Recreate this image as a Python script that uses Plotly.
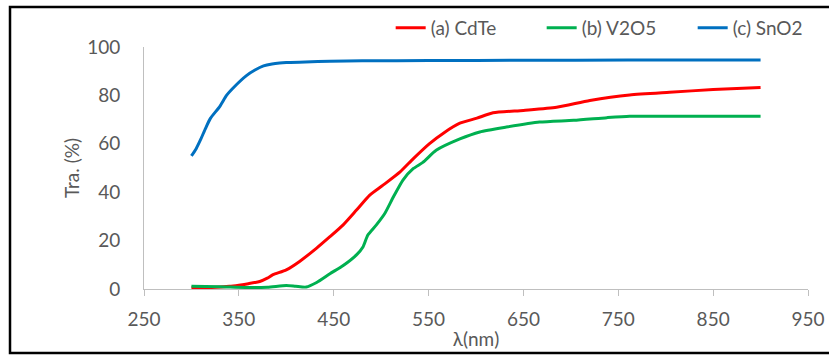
import plotly.graph_objects as go

# --- data ---
sno2_x = [300, 305, 310, 315, 320, 330, 337, 345, 358, 367, 376, 385, 393, 400, 420, 446, 480, 550, 650, 760, 850, 900]
sno2_y = [55, 58, 62, 66.5, 70.5, 75.5, 80, 83.5, 88.2, 90.5, 92.2, 93, 93.4, 93.6, 93.8, 94.1, 94.3, 94.4, 94.5, 94.6, 94.6, 94.6]

cdte_x = [300, 320, 340, 350, 360, 372, 380, 386, 400, 414, 432, 446, 460, 474, 488, 502, 520, 534, 551, 566, 583, 601, 618, 650, 685, 720, 762, 804, 850, 900]
cdte_y = [0.5, 0.6, 1.1, 1.6, 2.2, 3.1, 4.5, 5.9, 7.9, 11.4, 16.9, 21.6, 26.5, 32.6, 38.8, 42.9, 48.4, 53.9, 60.1, 64.5, 68.5, 70.6, 72.8, 73.8, 75.1, 77.9, 80.2, 81.3, 82.4, 83.3]

v2o5_x = [300, 330, 360, 380, 400, 410, 421, 432, 446, 460, 474, 481, 486, 495, 504, 513, 523, 534, 544, 558, 583, 604, 632, 667, 703, 738, 762, 800, 850, 900]
v2o5_y = [1.1, 0.9, 0.6, 0.7, 1.4, 1.1, 0.8, 2.7, 6.3, 9.7, 14.1, 17.5, 22.3, 26.5, 31.3, 38.1, 45.0, 49.8, 52.3, 57.3, 62.0, 64.9, 66.9, 69.0, 69.7, 70.8, 71.4, 71.4, 71.4, 71.4]

x_ticks = [250, 350, 450, 550, 650, 750, 850, 950]
y_ticks = [0, 20, 40, 60, 80, 100]

FONT = "Lato"
GRAY = "#595959"
AXIS = "#BFBFBF"
FS = 19

fig = go.Figure()
series = [
    ("(a) CdTe", cdte_x, cdte_y, "#FF0000"),
    ("(b) V2O5", v2o5_x, v2o5_y, "#00B050"),
    ("(c) SnO2", sno2_x, sno2_y, "#0070C0"),
]
for name, xs, ys, col in series:
    fig.add_trace(go.Scatter(x=xs, y=ys, mode="lines", name=name,
                             line=dict(color=col, width=3, shape="spline", smoothing=0.6)))

fig.update_layout(
    width=829, height=356,
    margin=dict(l=144, r=21, t=47, b=67, autoexpand=False),
    paper_bgcolor="white", plot_bgcolor="white",
    font=dict(family=FONT, size=FS, color=GRAY),
    showlegend=True,
    legend=dict(orientation="h", x=0.3715, y=1.0, xanchor="left", yanchor="bottom",
                font=dict(family=FONT, size=FS, color=GRAY),
                entrywidth=106, entrywidthmode="pixels",
                bgcolor="rgba(0,0,0,0)"),
    xaxis=dict(range=[250, 950], tickvals=x_ticks, showgrid=False, zeroline=False,
               showline=True, linecolor=AXIS, linewidth=1,
               ticks="outside", ticklen=6, tickcolor=AXIS,
               ticklabelstandoff=7,
               title=dict(text="λ(nm)", standoff=3, font=dict(size=FS, color=GRAY))),
    yaxis=dict(range=[0, 100], tickvals=y_ticks, showgrid=False, zeroline=False,
               showline=True, linecolor=AXIS, linewidth=1, ticks="",
               ticklabelstandoff=19,
               title=dict(text="Tra. (%)", standoff=2, font=dict(size=FS, color=GRAY))),
    shapes=[dict(type="rect", xref="paper", yref="paper",
                 x0=-0.2018, x1=1.04, y0=-0.2645, y1=1.165,
                 line=dict(color="black", width=2.5), fillcolor="rgba(0,0,0,0)", layer="below")],
)

fig.write_html("out.html")
